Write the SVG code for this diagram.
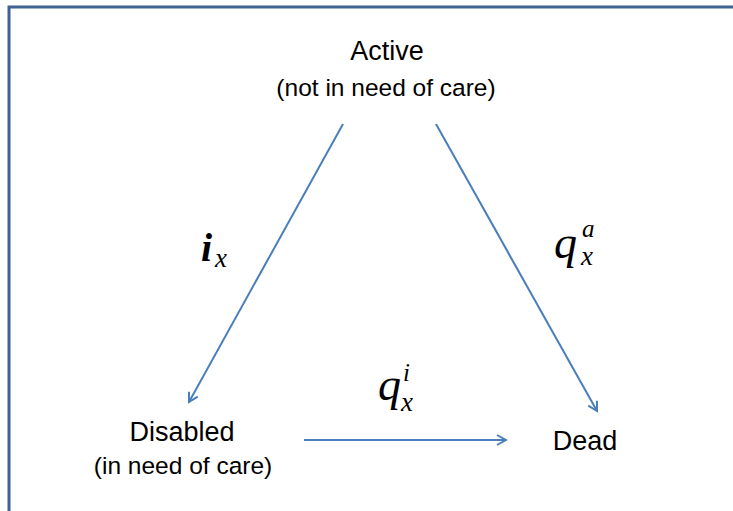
<svg xmlns="http://www.w3.org/2000/svg" width="733" height="511" viewBox="0 0 733 511">
<defs>
<style>
.lbl{font-family:"Liberation Sans",Arial,sans-serif;fill:#000;text-anchor:middle}
.big{font-size:27px}
.sm{font-size:24.5px}
.m{font-family:"Liberation Serif","Times New Roman",serif;font-style:italic;fill:#000}
.edge{stroke:#4A7EBB;stroke-width:2;fill:none;marker-end:url(#ah)}
</style>
<marker id="ah" viewBox="0 0 12 12" refX="10" refY="6" markerWidth="12" markerHeight="12" markerUnits="userSpaceOnUse" orient="auto">
<path d="M1,1 L10,6 L1,11" fill="none" stroke="#4A7EBB" stroke-width="2"/>
</marker>
</defs>
<rect width="733" height="511" fill="#fff"/>
<path d="M9,520 V7 H740" fill="none" stroke="#3F6290" stroke-width="3"/>
<g id="active">
<text class="lbl big" x="387" y="60">Active</text>
<text class="lbl sm" x="386" y="96">(not in need of care)</text>
</g>
<g id="disabled">
<text class="lbl big" x="182" y="441">Disabled</text>
<text class="lbl sm" x="183" y="474">(in need of care)</text>
</g>
<g id="dead">
<text class="lbl big" x="585" y="450">Dead</text>
</g>
<g id="connectors">
<line class="edge" x1="343" y1="124" x2="189" y2="402"/>
<line class="edge" x1="436" y1="124" x2="597" y2="411"/>
<line class="edge" x1="304" y1="440" x2="506" y2="440"/>
</g>
<g id="labels">
<text class="m" x="201" y="261" font-size="40" font-weight="bold">i</text>
<text class="m" x="215" y="267" font-size="27">x</text>
<text class="m" x="554" y="258" font-size="46">q</text>
<text class="m" x="582" y="237" font-size="25">a</text>
<text class="m" x="581" y="265" font-size="27">x</text>
<text class="m" x="378" y="400" font-size="46">q</text>
<text class="m" x="403" y="381" font-size="25">i</text>
<text class="m" x="401" y="411" font-size="27">x</text>
</g>
</svg>
